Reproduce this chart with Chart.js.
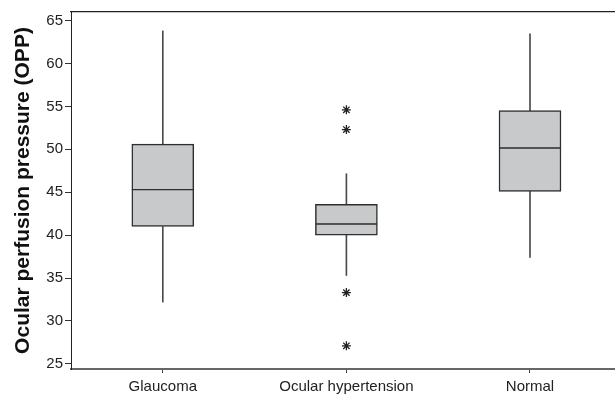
<!DOCTYPE html>
<html>
<head>
<meta charset="utf-8">
<script src="https://cdn.jsdelivr.net/npm/chart.js@4/dist/chart.umd.min.js"></script>
<style>
html,body{margin:0;padding:0;background:#fff;}
#wrap{width:615px;height:396px;position:relative;}
</style>
</head>
<body>
<div id="wrap"><canvas id="c" width="615" height="396"></canvas></div>
<script>
const categories = ['Glaucoma', 'Ocular hypertension', 'Normal'];
const whiskerLow  = [32.2, 35.3, 37.4];
const q1          = [41.0, 40.0, 45.1];
const median      = [45.3, 41.3, 50.15];
const q3          = [50.6, 43.6, 54.5];
const whiskerHigh = [63.8, 47.15, 63.45];
const outliers    = [[], [54.6, 52.3, 33.3, 27.1], []];
const yTicks      = [25, 30, 35, 40, 45, 50, 55, 60, 65];
const yTitle      = 'Ocular perfusion pressure (OPP)';

const pos = categories.map((_, i) => i + 1);
const FONT = '"Liberation Sans", Arial, sans-serif';
const boxFill = '#c8c9cb', boxLine = '#2e2e2e', whiskerCol = '#4a4a4a';

const lowerBox = pos.map((x, i) => ({x, y: [q1[i], median[i]]}));
const upperBox = pos.map((x, i) => ({x, y: [median[i], q3[i]]}));
const lowerWhisk = pos.map((x, i) => ({x, y: [whiskerLow[i], q1[i]]}));
const upperWhisk = pos.map((x, i) => ({x, y: [q3[i], whiskerHigh[i]]}));
const outPts = [];
outliers.forEach((arr, i) => arr.forEach(v => outPts.push({x: pos[i], y: v})));

const whiskerDs = (data) => ({
  type: 'bar', data, grouped: false, barThickness: 1,
  backgroundColor: whiskerCol, borderWidth: 0, order: 3
});
const boxDs = (data, bw) => ({
  type: 'bar', data, grouped: false, barThickness: 62,
  backgroundColor: boxFill, borderColor: boxLine, borderWidth: bw,
  borderSkipped: false, order: 2
});

new Chart(document.getElementById('c'), {
  type: 'bar',
  data: {
    datasets: [
      whiskerDs(lowerWhisk),
      whiskerDs(upperWhisk),
      boxDs(lowerBox, {top: 1, bottom: 1.5, left: 1.5, right: 1.5}),
      boxDs(upperBox, {top: 1.5, bottom: 1, left: 1.5, right: 1.5}),
      {
        type: 'scatter', data: outPts, pointStyle: 'star', radius: 4.5,
        borderColor: '#222', borderWidth: 1.3, backgroundColor: '#222', order: 1
      }
    ]
  },
  options: {
    responsive: false,
    animation: false,
    events: [],
    layout: {autoPadding: false, padding: {left: 0, right: 0, top: 0, bottom: 0}},
    plugins: {legend: {display: false}, tooltip: {enabled: false}},
    scales: {
      x: {
        type: 'linear', position: 'bottom', min: 0.5, max: 3.463,
        offset: false,
        afterBuildTicks: (s) => { s.ticks = pos.map(v => ({value: v})); },
        afterFit: (s) => { s.height = 27; s.paddingRight = 0; s.paddingLeft = 0; },
        ticks: {
          callback: (v) => categories[v - 1],
          font: {family: FONT, size: 15}, color: '#222', padding: 5,
          maxRotation: 0, autoSkip: false
        },
        grid: {offset: false, drawOnChartArea: false, drawTicks: true, tickLength: 4, color: '#444', lineWidth: 1},
        border: {display: true, color: '#666', width: 2}
      },
      x2: {
        type: 'linear', position: 'top', min: 0, max: 1, offset: false,
        afterFit: (s) => { s.height = 12; s.paddingRight = 0; s.paddingLeft = 0; },
        ticks: {display: false},
        grid: {display: false, drawTicks: false, offset: false},
        border: {display: true, color: '#222', width: 1.2}
      },
      y: {
        type: 'linear', min: 24.4, max: 66,
        afterBuildTicks: (s) => { s.ticks = yTicks.map(v => ({value: v})); },
        afterFit: (s) => { s.width = 71; },
        ticks: {font: {family: FONT, size: 15}, color: '#222', padding: 2},
        grid: {drawOnChartArea: false, drawTicks: true, tickLength: 6, color: '#333', lineWidth: 1},
        border: {display: true, color: '#222', width: 1},
        title: {
          display: true, text: yTitle, color: '#111',
          font: {family: FONT, size: 21, weight: 'bold'}, padding: {top: 11, bottom: 0}
        }
      }
    }
  }
});
</script>
</body>
</html>
